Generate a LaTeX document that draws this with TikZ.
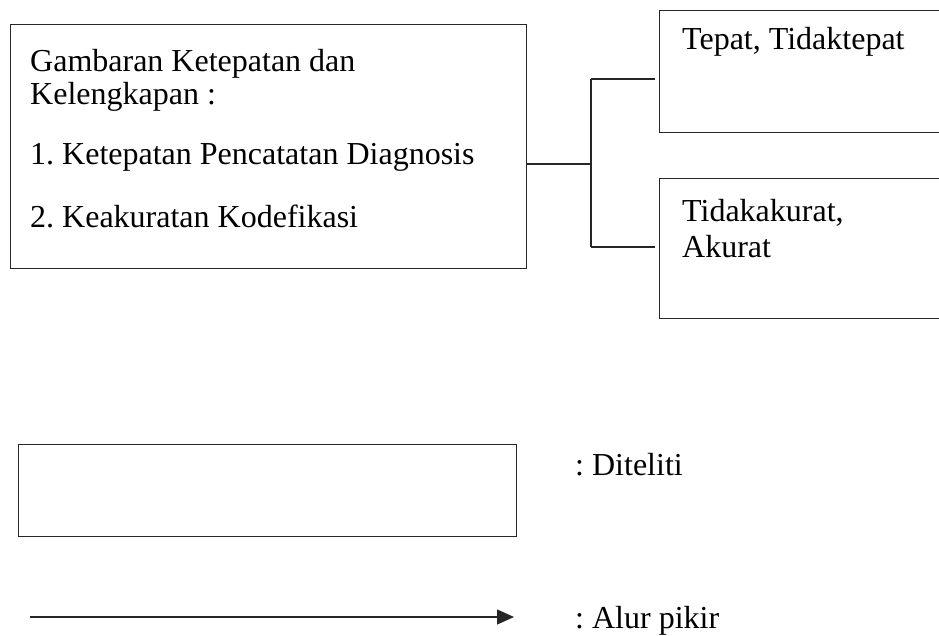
\documentclass[tikz,border=0pt]{standalone}
\usepackage{fontspec}
\setmainfont{Liberation Serif}
\usetikzlibrary{arrows.meta}
\frenchspacing
\begin{document}
\begin{tikzpicture}[x=1pt,y=-1pt,
  boxstyle/.style={draw=black!85,line width=1.3pt,inner sep=0pt,anchor=north west},
  txt/.style={inner sep=0pt,anchor=base west,font=\fontsize{32}{36}\selectfont},
  conn/.style={draw=black!85,line width=1.3pt}]
\useasboundingbox (0,0) rectangle (939,636);
\clip (0,0) rectangle (939,636);
% main box
\node[boxstyle,minimum width=516pt,minimum height=244pt] (main) at (10,24) {};
\node[txt] (m1) at (30,72) {Gambaran Ketepatan dan};
\node[txt] (m2) at (30,105) {Kelengkapan :};
\node[txt] (m3) at (30,165) {1. Ketepatan Pencatatan Diagnosis};
\node[txt] (m4) at (30,228) {2. Keakuratan Kodefikasi};
% right boxes (run off the right edge)
\node[boxstyle,minimum width=300pt,minimum height=122pt] (tbox) at (659,10) {};
\node[txt] (t1) at (682,50) {Tepat, Tidaktepat};
\node[boxstyle,minimum width=300pt,minimum height=140pt] (bbox) at (659,178) {};
\node[txt] (b1) at (682,222) {Tidakakurat,};
\node[txt] (b2) at (682,258) {Akurat};
% connectors
\coordinate (jm) at (591,164);
\coordinate (jt) at (591,79);
\coordinate (jb) at (591,247);
\draw[conn] (main.east |- jm) -- (jm);
\draw[conn] (jt) -- (jb);
\draw[conn,shorten >=4pt] (jt) -- (jt -| tbox.west);
\draw[conn,shorten >=4pt] (jb) -- (jb -| bbox.west);
% legend
\node[boxstyle,minimum width=498pt,minimum height=92pt] (leg) at (18,444) {};
\node[txt] (l1) at (575,475) {: Diteliti};
\coordinate (a1) at (30,617);
\coordinate (a2) at (514,617);
\draw[conn,-{Triangle[length=17pt,width=15pt]}] (a1) -- (a2);
\node[txt] (l2) at (575,628) {: Alur pikir};
\end{tikzpicture}
\end{document}
